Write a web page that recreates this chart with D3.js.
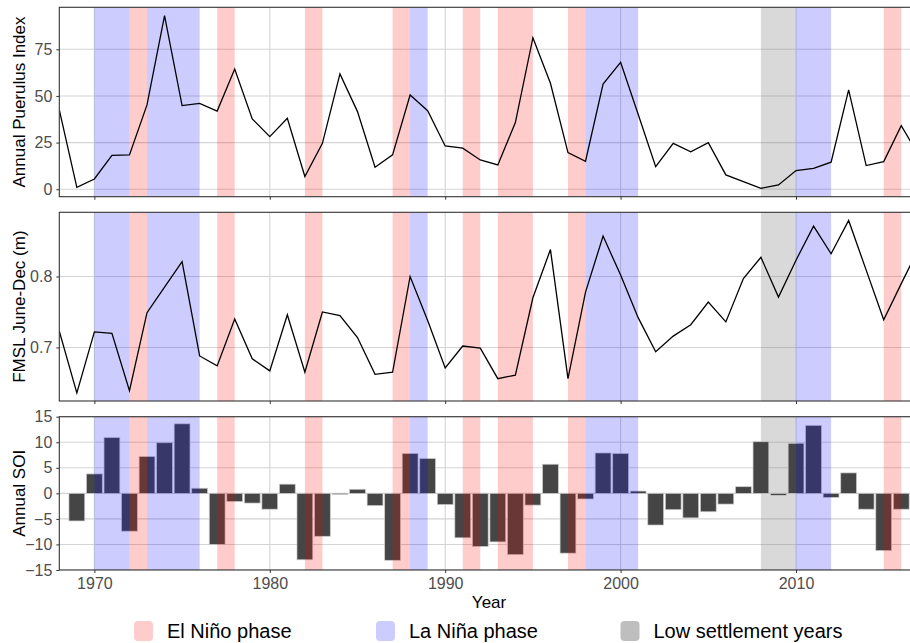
<!DOCTYPE html>
<html lang="en">
<head>
  <meta charset="UTF-8">
  <title>Puerulus, FMSL and SOI</title>
  <script src="https://d3js.org/d3.v7.min.js"></script>
  <style>
    body {
      margin: 0;
      background: #ffffff;
      overflow: hidden;
    }
    svg text {
      font-family: "Liberation Sans", Arial, Helvetica, sans-serif;
    }
    .tick text {
      fill: #4d4d4d;
      font-size: 16px;
    }
    .tick line {
      stroke: #333333;
    }
    .domain {
      display: none;
    }
  </style>
</head>
<body>
<div id="chart"></div>

<script>
// ---- data ----
const lineYears = d3.range(1968, 2018);
const puerulus = [42.5, 1, 5.5, 18.2, 18.4, 45.2, 93, 44.8, 46, 41.9,
  64.4, 37.7, 28.2, 38, 6.8, 24.6, 61.8, 41.6, 11.8, 18.4,
  50.5, 42.1, 23.2, 22, 15.7, 13, 35.7, 81.2, 56.8, 19.6,
  15, 56.4, 68, 40.2, 12.1, 24.6, 20.1, 25, 7.7, 4.1,
  0.5, 2.3, 10, 11.2, 14.5, 53.2, 12.7, 14.8, 34.1, 18];
const fmsl = [0.723, 0.636, 0.722, 0.720, 0.639, 0.749, 0.785, 0.821, 0.688, 0.674,
  0.740, 0.684, 0.667, 0.746, 0.665, 0.750, 0.745, 0.714, 0.662, 0.665,
  0.800, 0.738, 0.671, 0.702, 0.699, 0.656, 0.661, 0.770, 0.838, 0.656,
  0.778, 0.857, 0.802, 0.742, 0.694, 0.716, 0.732, 0.764, 0.736, 0.797,
  0.827, 0.771, 0.823, 0.871, 0.832, 0.879, 0.809, 0.739, 0.790, 0.840];

const soiYears = d3.range(1969, 2017);
const soi = [-5.4, 3.8, 10.9, -7.4, 7.2, 9.9, 13.6, 1.0, -10.0, -1.6,
  -1.9, -3.1, 1.8, -13.0, -8.4, -0.2, 0.8, -2.4, -13.1, 7.8,
  6.8, -2.2, -8.7, -10.4, -9.5, -12.0, -2.3, 5.7, -11.7, -1.1,
  7.9, 7.8, 0.45, -6.2, -3.2, -4.8, -3.6, -2.1, 1.3, 10.1,
  -0.4, 9.8, 13.3, -0.8, 4.0, -3.1, -11.2, -3.1];

const elNinoStart = [1972, 1977, 1982, 1987, 1991, 1993, 1997, 2015];
const elNinoEnd   = [1973, 1978, 1983, 1988, 1992, 1995, 1998, 2016];
const laNinaStart = [1970, 1973, 1988, 1998, 2010];
const laNinaEnd   = [1972, 1976, 1989, 2001, 2012];
const lowStart = [2008];
const lowEnd   = [2010];

const xTicks = [1970, 1980, 1990, 2000, 2010];
const puerulusTicks = [0, 25, 50, 75];
const fmslTicks = [0.7, 0.8];
const soiTicks = [-15, -10, -5, 0, 5, 10, 15];

const legendLabels = ["El Niño phase", "La Niña phase", "Low settlement years"];

// ---- layout ----
const W = 910, H = 643;
const svg = d3.select("#chart").append("svg")
    .attr("width", W)
    .attr("height", H);

const x = d3.scaleLinear().domain([1968, 2017]).range([59.3, 918.8]);

const panels = [
  { id: "p1", top: 7.3, bottom: 196.7, domain: [-4, 97.5], ticks: puerulusTicks, title: "Annual Puerulus Index" },
  { id: "p2", top: 212.3, bottom: 401, domain: [0.6245, 0.8905], ticks: fmslTicks, title: "FMSL June-Dec (m)" },
  { id: "p3", top: 416.7, bottom: 570, domain: [-15, 15], ticks: soiTicks, title: "Annual SOI" }
];

const redFill = "rgba(255,0,0,0.2)";
const blueFill = "rgba(0,0,255,0.2)";
const greyFill = "rgba(128,128,128,0.3)";

function shade(g, y, starts, ends, fill) {
  g.selectAll(null)
    .data(starts.map((s, i) => [s, ends[i]]))
    .join("rect")
    .attr("x", d => x(d[0]))
    .attr("width", d => x(d[1]) - x(d[0]))
    .attr("y", y.range()[1])
    .attr("height", y.range()[0] - y.range()[1])
    .attr("fill", fill);
}

panels.forEach((p, k) => {
  const y = d3.scaleLinear().domain(p.domain).range([p.bottom, p.top]);

  svg.append("clipPath").attr("id", "clip-" + p.id)
    .append("rect")
    .attr("x", x.range()[0]).attr("y", p.top)
    .attr("width", x.range()[1] - x.range()[0])
    .attr("height", p.bottom - p.top);

  const g = svg.append("g").attr("clip-path", `url(#clip-${p.id})`);

  // grid
  g.selectAll(null).data(p.ticks).join("line")
    .attr("x1", x.range()[0]).attr("x2", x.range()[1])
    .attr("y1", d => y(d)).attr("y2", d => y(d))
    .attr("stroke", "#d4d4d4").attr("stroke-width", 1.1);
  g.selectAll(null).data(xTicks).join("line")
    .attr("x1", d => x(d)).attr("x2", d => x(d))
    .attr("y1", p.top).attr("y2", p.bottom)
    .attr("stroke", "#d4d4d4").attr("stroke-width", 1.1);

  shade(g, y, lowStart, lowEnd, greyFill);

  if (k === 2) {
    const bw = (x(1) - x(0)) * 0.9;
    g.selectAll(null).data(soi).join("rect")
      .attr("x", (d, i) => x(soiYears[i]) - bw / 2)
      .attr("width", bw)
      .attr("y", d => y(Math.max(0, d)))
      .attr("height", d => Math.abs(y(d) - y(0)))
      .attr("fill", "#454545")
      .attr("stroke", "#cccccc")
      .attr("stroke-width", 0.7);
  }

  shade(g, y, elNinoStart, elNinoEnd, redFill);
  shade(g, y, laNinaStart, laNinaEnd, blueFill);

  if (k < 2) {
    const vals = k === 0 ? puerulus : fmsl;
    g.append("path")
      .datum(vals)
      .attr("d", d3.line().x((d, i) => x(lineYears[i])).y(d => y(d)))
      .attr("fill", "none")
      .attr("stroke", "#000000")
      .attr("stroke-width", 1.3);
  }

  // border
  svg.append("rect")
    .attr("x", x.range()[0]).attr("y", p.top)
    .attr("width", x.range()[1] - x.range()[0])
    .attr("height", p.bottom - p.top)
    .attr("fill", "none")
    .attr("stroke", "#333333")
    .attr("stroke-width", 1.1);

  // axes
  svg.append("g")
    .attr("transform", `translate(${x.range()[0]},0)`)
    .call(d3.axisLeft(y).tickValues(p.ticks).tickSize(3).tickPadding(4)
      .tickFormat(k === 1 ? d3.format(".1f") : d3.format("d")));

  const xa = svg.append("g")
    .attr("transform", `translate(0,${p.bottom})`)
    .call(d3.axisBottom(x).tickValues(xTicks).tickSize(3).tickPadding(5).tickFormat(d3.format("d")));
  if (k < 2) xa.selectAll("text").remove();

  svg.append("text")
    .attr("transform", `translate(25,${(p.top + p.bottom) / 2}) rotate(-90)`)
    .attr("text-anchor", "middle")
    .attr("font-size", 17)
    .attr("fill", "#000")
    .text(p.title);
});

svg.append("text")
  .attr("x", (x.range()[0] + x.range()[1]) / 2)
  .attr("y", 608)
  .attr("text-anchor", "middle")
  .attr("font-size", 17)
  .text("Year");

// legend
const legendColors = ["#ffcccc", "#ccccff", "#bebebe"];
const legendX = [134, 376, 620.5];
const legend = svg.append("g");
legendLabels.forEach((lab, i) => {
  legend.append("rect")
    .attr("x", legendX[i]).attr("y", 621)
    .attr("width", 19).attr("height", 20)
    .attr("rx", 4)
    .attr("fill", legendColors[i]);
  legend.append("text")
    .attr("x", legendX[i] + 33)
    .attr("y", 638)
    .attr("font-size", 20)
    .text(lab);
});
</script>
</body>
</html>
